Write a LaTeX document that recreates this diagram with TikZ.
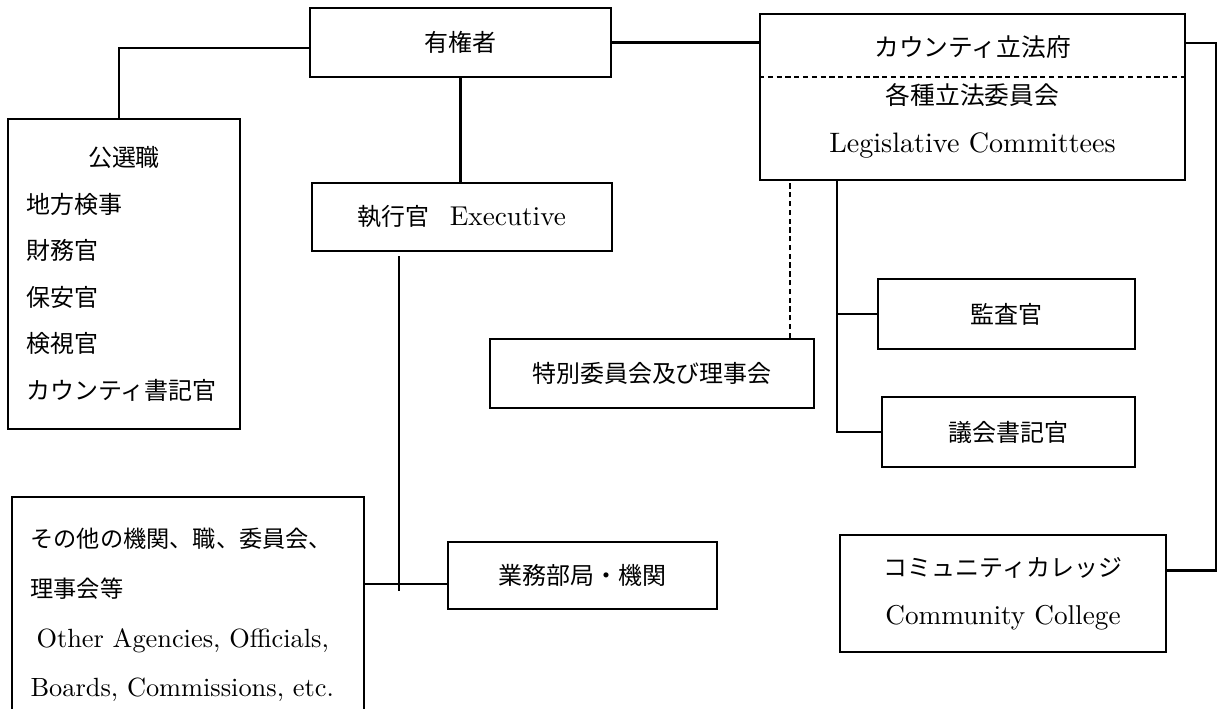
\documentclass[tikz,border=0pt]{standalone}
\usepackage{fontspec}
\setmainfont{lmroman10-regular}[Extension=.otf]
\newfontfamily\jp{Noto Sans CJK JP}[Scale=0.88]
\usetikzlibrary{positioning, calc}

\begin{document}
\begin{tikzpicture}[x=0.02cm, y=-0.02cm,
		box/.style={draw, line width=1.15pt, inner sep=2pt, align=center, font=\fontsize{15.5}{27.5}\selectfont},
		link/.style={line width=1.15pt},
		split/.style={line width=0.7pt, dash pattern=on 3pt off 2pt}]
		\useasboundingbox (0,0) rectangle (1226,709);
		\clip (0,0) rectangle (1226,709);
		\node[box, minimum width=6.02cm, minimum height=1.38cm] (voter) at (460.5,42.5) {\jp 有権者};
		\node[box, minimum width=6.0cm, minimum height=1.36cm] (exec) at (462,217) {{\jp 執行官}\hspace{0.4cm}Executive};
		\node[box, align=left, text width=3.9cm, inner xsep=0.37cm, minimum height=6.2cm, font=\fontsize{15.5}{26.5}\selectfont] (elected) at (124,274)
			{\jp\makebox[\hsize]{公選職}\\地方検事\\財務官\\保安官\\検視官\\カウンティ書記官};
		\node[box, align=left, text width=6.3cm, inner xsep=0.37cm, minimum height=4.72cm, font=\fontsize{15}{28.3}\selectfont] (other) at (188,615)
			{{\jp その他の機関、職、委員会、}\\{\jp 理事会等}\\\hspace*{0.12cm}Other Agencies, Officials,\\Boards, Commissions, etc.};
		\node[box, minimum width=5.38cm, minimum height=1.34cm] (dept) at (582.5,575.5) {\jp 業務部局・機関};
		\node[box, minimum width=6.48cm, minimum height=1.38cm] (special) at (652,373.5) {\jp 特別委員会及び理事会};
		\node[box, minimum width=8.5cm, minimum height=3.32cm, font=\fontsize{16}{27.5}\selectfont] (legis) at (972.5,97)
			{{\jp カウンティ立法府}\\{\jp 各種立法委員会}\\Legislative Committees};
		\node[box, minimum width=5.14cm, minimum height=1.4cm] (audit) at (1006.5,314) {\jp 監査官};
		\node[box, minimum width=5.06cm, minimum height=1.4cm] (clerk) at (1008.5,432) {\jp 議会書記官};
		\node[box, minimum width=6.52cm, minimum height=2.34cm] (college) at (1003,593.5)
			{{\jp コミュニティカレッジ}\\Community College};
		\draw[split] ($(legis.north west)+(0,64)$) -- ($(legis.north east)+(0,64)$);

		\coordinate (hub) at (399,584);
		\coordinate (rbus) at (1216,43);
		\coordinate (trunk) at (837,0);
		\coordinate (sp) at ($(special.north east)+(-25,0)$);

		\draw[link] ([yshift=-0.11cm]voter.west) -| ([xshift=-0.1cm]elected.north);
		\draw[link] (voter.south) -- (voter.south |- exec.north);
		\draw[link] (voter.east) -- (voter.east -| legis.west);
		\draw[link] (rbus -| legis.east) -- (rbus) |- ([yshift=0.46cm]college.east);
		\draw[link] ($(exec.south -| hub)+(0,4)$) -- ($(hub)+(0,7)$);
		\draw[link] (hub -| other.east) -- (hub -| dept.west);
		\draw[link, split, line width=1pt] (sp) -- (sp |- legis.south);
		\draw[link] (trunk |- legis.south) -- ($(trunk |- clerk.west)+(0,1)$);
		\draw[link] (trunk |- audit.west) -- (audit.west);
		\draw[link] (trunk |- clerk.west) -- (clerk.west);
	\end{tikzpicture}
\end{document}
